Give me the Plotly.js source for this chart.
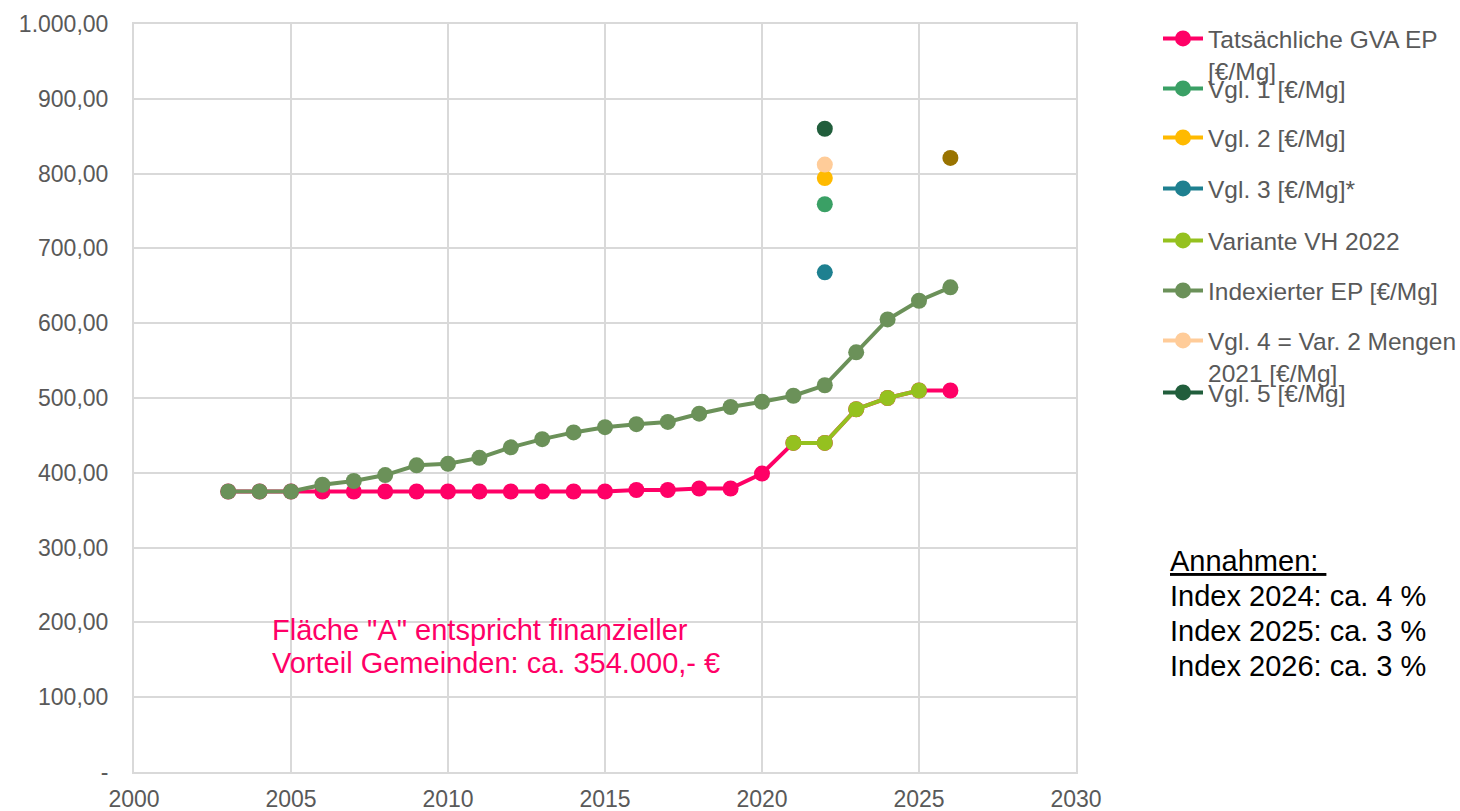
<!DOCTYPE html>
<html>
<head>
<meta charset="utf-8">
<script src="https://cdn.plot.ly/plotly-3.0.1.min.js"></script>
<style>html,body{margin:0;padding:0;background:#fff;}#chart{width:1460px;height:811px;}</style>
</head>
<body>
<div id="chart"></div>
<script>
// ---- data ----
const years = [2003,2004,2005,2006,2007,2008,2009,2010,2011,2012,2013,2014,2015,2016,2017,2018,2019,2020,2021,2022,2023,2024,2025,2026];
const tatsaechlich = [375,375,375,375,375,375,375,375,375,375,375,375,375,377,377,379,379,399,440,440,485,500,510,510];
const indexiert = [375,375,375,384,389,397,410,412,420,434,445,454,461,465,468,479,488,495,503,517,561,605,630,648];
const varianteYears = [2021,2022,2023,2024,2025];
const variante = [440,440,485,500,510];
const vglYear = [2022];
const vgl1 = [759];
const vgl2 = [794];
const vgl3 = [668];
const vgl4 = [812];
const vgl5 = [860];
const extraYear = [2026];
const extraVal = [821];
const yTickVals = [0,100,200,300,400,500,600,700,800,900,1000];
const yTickText = ['-','100,00','200,00','300,00','400,00','500,00','600,00','700,00','800,00','900,00','1.000,00'];
const xTickVals = [2000,2005,2010,2015,2020,2025,2030];

// ---- layout helpers ----
const W = 1460, H = 811;
const mL = 134, mR = 384, mT = 24, mB = 39;
const plotH = H - mT - mB;
const plotW = W - mL - mR;
const py = px => (H - mB - px) / plotH;   // pixel y -> paper y
const pxX = px => (px - mL) / plotW;      // pixel x -> paper x

const LW = 4, MS = 16;
function tr(name, x, y, color, legend, extra) {
  return Object.assign({
    type: 'scatter', mode: 'lines+markers', name: name, x: x, y: y,
    line: {color: color, width: LW},
    marker: {color: color, size: MS},
    legend: legend, hoverinfo: 'x+y+name'
  }, extra || {});
}

const data = [
  tr('Tatsächliche GVA EP<br>[€/Mg]', years, tatsaechlich, '#FF0066', 'legend'),
  tr('Vgl. 1 [€/Mg]', vglYear, vgl1, '#3AA065', 'legend2'),
  tr('Vgl. 2 [€/Mg]', vglYear, vgl2, '#FFBA00', 'legend3'),
  tr('Vgl. 3 [€/Mg]*', vglYear, vgl3, '#1E8090', 'legend4'),
  tr('Variante VH 2022', varianteYears, variante, '#95C11F', 'legend5'),
  tr('Indexierter EP [€/Mg]', years, indexiert, '#6B9159', 'legend6'),
  tr('Vgl. 4 = Var. 2 Mengen<br>2021 [€/Mg]', vglYear, vgl4, '#FFCC99', 'legend7'),
  tr('Vgl. 5 [€/Mg]', vglYear, vgl5, '#215E3C', 'legend8'),
  tr('', extraYear, extraVal, '#997300', 'legend', {showlegend: false})
];

const legendCenters = [38, 88, 137, 188, 240, 290, 340, 392];
const legFont = {family: 'Liberation Sans, Arial, sans-serif', size: 24.5, color: '#595959'};
const layout = {
  width: W, height: H,
  margin: {l: mL, r: mR, t: mT, b: mB, autoexpand: false},
  paper_bgcolor: '#ffffff', plot_bgcolor: '#ffffff',
  showlegend: true,
  font: {family: 'Liberation Sans, Arial, sans-serif', size: 23, color: '#595959'},
  xaxis: {
    range: [2000, 2030], tickvals: xTickVals, ticktext: xTickVals.map(String),
    showgrid: true, gridcolor: '#D9D9D9', gridwidth: 2,
    showline: true, linecolor: '#D9D9D9', linewidth: 2, mirror: true,
    zeroline: false, ticks: '', ticklabelstandoff: 5,
    tickfont: {size: 23, color: '#595959'}, automargin: false
  },
  yaxis: {
    range: [0, 1000], tickvals: yTickVals, ticktext: yTickText,
    showgrid: true, gridcolor: '#D9D9D9', gridwidth: 2,
    showline: true, linecolor: '#D9D9D9', linewidth: 2, mirror: true,
    zeroline: false, ticks: '', ticklabelstandoff: 19,
    tickfont: {size: 23, color: '#595959'}, automargin: false
  },
  annotations: [
    {xref: 'paper', yref: 'paper', x: pxX(270), y: py(630), xanchor: 'left', yanchor: 'middle', showarrow: false,
     text: 'Fläche "A" entspricht finanzieller', font: {size: 29, color: '#FF0066'}},
    {xref: 'paper', yref: 'paper', x: pxX(270), y: py(663), xanchor: 'left', yanchor: 'middle', showarrow: false,
     text: 'Vorteil Gemeinden: ca. 354.000,- €', font: {size: 29, color: '#FF0066'}},
    {xref: 'paper', yref: 'paper', x: pxX(1168), y: py(561), xanchor: 'left', yanchor: 'middle', showarrow: false,
     text: '<u>Annahmen: </u>', font: {size: 29, color: '#000000'}},
    {xref: 'paper', yref: 'paper', x: pxX(1168), y: py(596), xanchor: 'left', yanchor: 'middle', showarrow: false,
     text: 'Index 2024: ca. 4 %', font: {size: 29, color: '#000000'}},
    {xref: 'paper', yref: 'paper', x: pxX(1168), y: py(631), xanchor: 'left', yanchor: 'middle', showarrow: false,
     text: 'Index 2025: ca. 3 %', font: {size: 29, color: '#000000'}},
    {xref: 'paper', yref: 'paper', x: pxX(1168), y: py(666), xanchor: 'left', yanchor: 'middle', showarrow: false,
     text: 'Index 2026: ca. 3 %', font: {size: 29, color: '#000000'}}
  ]
};
const legNames = ['legend','legend2','legend3','legend4','legend5','legend6','legend7','legend8'];
legNames.forEach((ln, i) => {
  layout[ln] = {
    x: pxX(1158), xanchor: 'left', y: py(legendCenters[i] - 22), yanchor: 'top',
    bgcolor: 'rgba(0,0,0,0)', borderwidth: 0, font: legFont, valign: 'top',
    itemwidth: 40, itemclick: false, itemdoubleclick: false
  };
});

Plotly.newPlot('chart', data, layout, {displayModeBar: false, staticPlot: true});
</script>
</body>
</html>
